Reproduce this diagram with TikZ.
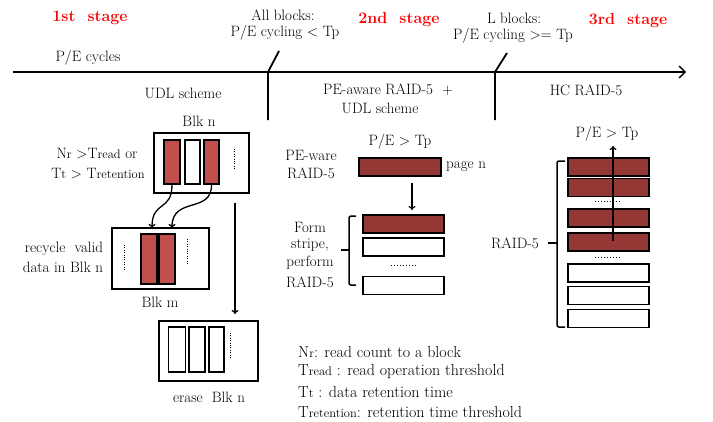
\documentclass[tikz,border=0pt]{standalone}
\usepackage{fontspec}
\usetikzlibrary{arrows.meta,calc}
\definecolor{redA}{HTML}{C0504D}
\definecolor{redB}{HTML}{953735}
\definecolor{stagered}{HTML}{FF0000}
\newcommand\smsub[1]{{\fontsize{12.5}{13}\selectfont #1}}
\begin{document}
\begin{tikzpicture}[x=1pt,y=-1pt,
  txt/.style={inner sep=0pt,font=\fontsize{15}{17}\selectfont},
  legtxt/.style={inner sep=0pt,anchor=west,font=\fontsize{16}{18}\selectfont},
  stagetxt/.style={inner sep=0pt,text=stagered,font=\fontsize{16}{18}\selectfont\bfseries},
  blkbox/.style={draw,line width=1.5pt,inner sep=0pt,minimum width=#1,minimum height=60pt},
  col/.style={draw,line width=1.3pt,inner sep=0pt,minimum width=16pt,minimum height=#1},
  bar/.style={draw,line width=1.5pt,inner sep=0pt,minimum width=81pt,minimum height=18pt},
  dotsv/.style={line width=1pt,dash pattern=on 0.8pt off 1.6pt},
  dotsh/.style={line width=1pt,dash pattern=on 0.8pt off 2.2pt},
  arr/.style={line width=1.3pt,-{To[length=4pt,width=7pt]}},
  axis/.style={line width=1.4pt},
  brace/.style={line width=1.5pt,rounded corners=2pt}]
\useasboundingbox (0,0) rectangle (713,421);

% timeline
\coordinate (tl0) at (13,72);
\coordinate (tl1) at (686,72);
\draw[axis,-{Straight Barb[length=6pt,width=12pt,line width=1.4pt]}] (tl0) -- (tl1);
\coordinate (t1a) at (268,72); \coordinate (t1b) at (268,120); \coordinate (t1c) at (279,51);
\coordinate (t2a) at (495,72); \coordinate (t2b) at (495,120); \coordinate (t2c) at (507,53);
\draw[axis,line width=1.8pt] (t1c) -- (t1a) -- (t1b);
\draw[axis,line width=1.8pt] (t2c) -- (t2a) -- (t2b);

% header texts
\node[stagetxt] (s1) at (90,18) {1st\ \ stage};
\node[stagetxt] (s2) at (399,20) {2nd\ \ stage};
\node[stagetxt] (s3) at (628,21) {3rd\ \ stage};
\node[txt] (allb1) at (283,15) {All blocks:};
\node[txt] (allb2) at (285,33) {P/E cycling {\textless} Tp};
\node[txt] (lb1) at (514,18) {L blocks:};
\node[txt] (lb2) at (513,36) {P/E cycling {\textgreater}= Tp};
\node[txt] (pec) at (88,58) {P/E cycles};
\node[txt] (udl) at (183,93) {UDL scheme};
\node[txt] (pea1) at (388,90) {PE-aware RAID-5\ \ +};
\node[txt] (pea2) at (380,108) {UDL scheme};
\node[txt] (hc) at (586,90) {HC RAID-5};

% stage 1
\node[txt] (blknl) at (199,121) {Blk n};
\node[blkbox=95pt] (bn) at (201.5,163) {};
\node[col=44pt,fill=redA] (c1) at (172,162) {};
\node[col=44pt,minimum width=15pt] (c2) at (192.5,162) {};
\node[col=44pt,minimum width=15pt,fill=redA] (c3) at (211.5,162) {};
\coordinate (d1a) at (234,149); \coordinate (d1b) at (234,170);
\draw[dotsv] (d1a) -- (d1b);
\node[txt] (cond1) at (97,154) {N\smsub{r} {\textgreater}T\smsub{read} or};
\node[txt] (cond2) at (98,174) {T\smsub{t} {\textgreater} T\smsub{retention}};

\node[blkbox=97pt,minimum height=61pt] (bm) at (160.5,258.5) {};
\node[col=50pt,fill=redA] (m1) at (149,259) {};
\node[col=50pt,fill=redA] (m2) at (167,259) {};
\coordinate (d2a) at (124,245); \coordinate (d2b) at (124,270);
\coordinate (d3a) at (187,239); \coordinate (d3b) at (187,264);
\draw[dotsv] (d2a) -- (d2b);
\draw[dotsv] (d3a) -- (d3b);
\node[txt] (rec1) at (64,249) {recycle\ \ valid};
\node[txt] (rec2) at (63,267) {data in Blk n};
\node[txt] (blkml) at (160,302) {Blk m};

\coordinate (a1e) at (152,228);
\coordinate (a2e) at (172,228);
\draw[arr] (c1.south) .. controls (172,212) and (152,200) .. (a1e);
\draw[arr] (c3.south) .. controls (212,214) and (172,196) .. (a2e);

\coordinate (v0) at (235,203);
\coordinate (v1) at (235,314);
\draw[arr] (v0) -- (v1);

\node[blkbox=99pt] (be) at (208.5,351) {};
\node[col=45pt,minimum width=17pt] (e1) at (177,349.5) {};
\node[col=45pt] (e2) at (197,349.5) {};
\node[col=45pt,minimum width=15pt] (e3) at (216.5,349.5) {};
\coordinate (d4a) at (230,333); \coordinate (d4b) at (230,358);
\draw[dotsv] (d4a) -- (d4b);
\node[txt] (erase) at (209,397) {erase\ \ Blk n};

% stage 2
\node[txt] (pe2) at (400,142) {P/E {\textgreater} Tp};
\node[txt] (pw1) at (311,155) {PE-ware};
\node[txt] (pw2) at (311,173) {RAID-5};
\node[bar,minimum width=82pt,fill=redB] (pg) at (400,167) {};
\node[txt,anchor=west] (pgl) at (446,167) {page n};
\coordinate (p2a) at (412,183); \coordinate (p2b) at (412,210);
\draw[arr] (p2a) -- (p2b);
\node[bar,fill=redB] (sb1) at (403.5,224) {};
\node[bar] (sb2) at (403.5,247) {};
\node[bar] (sb3) at (403.5,285.5) {};
\coordinate (sd1) at (391,265); \coordinate (sd2) at (418,265);
\draw[dotsh] (sd1) -- (sd2);
\coordinate (br1a) at (356,216); \coordinate (br1b) at (349,216);
\coordinate (br1c) at (349,285); \coordinate (br1d) at (356,285);
\coordinate (br1m) at (349,250); \coordinate (br1t) at (341,250);
\draw[brace] (br1a) -- (br1b) -- (br1c) -- (br1d);
\draw[brace] (br1m) -- (br1t);
\node[txt] (f1) at (310,227) {Form};
\node[txt] (f2) at (310,245) {stripe,};
\node[txt] (f3) at (310,263) {perform};
\node[txt] (f4) at (310,282) {RAID-5};

% stage 3
\node[txt] (pe3) at (607,134) {P/E {\textgreater} Tp};
\node[bar,fill=redB] (h1) at (608.5,167) {};
\node[bar,fill=redB] (h2) at (608.5,187.5) {};
\node[bar,fill=redB] (h3) at (608.5,218) {};
\node[bar,fill=redB] (h4) at (608.5,242) {};
\node[bar] (h5) at (608.5,273) {};
\node[bar] (h6) at (608.5,295.5) {};
\node[bar] (h7) at (608.5,318.5) {};
\coordinate (hd1a) at (595,201); \coordinate (hd1b) at (621,201);
\coordinate (hd2a) at (595,257); \coordinate (hd2b) at (621,257);
\draw[dotsh] (hd1a) -- (hd1b);
\draw[dotsh] (hd2a) -- (hd2b);
\coordinate (ua) at (613,241); \coordinate (ub) at (613,146);
\draw[arr] (ua) -- (ub);
\coordinate (br2a) at (565,161); \coordinate (br2b) at (557,161);
\coordinate (br2c) at (557,327); \coordinate (br2d) at (565,327);
\coordinate (br2m) at (557,243); \coordinate (br2t) at (548,243);
\draw[brace] (br2a) -- (br2b) -- (br2c) -- (br2d);
\draw[brace] (br2m) -- (br2t);
\node[txt] (r5) at (515,243) {RAID-5};

% legend
\node[legtxt] (lg1) at (298,352) {N\smsub{r}: read count to a block};
\node[legtxt] (lg2) at (298,372) {T\smsub{read} : read operation threshold};
\node[legtxt] (lg3) at (298,392) {T\smsub{t} : data retention time};
\node[legtxt] (lg4) at (298,412) {T\smsub{retention}: retention time threshold};
\end{tikzpicture}
\end{document}
